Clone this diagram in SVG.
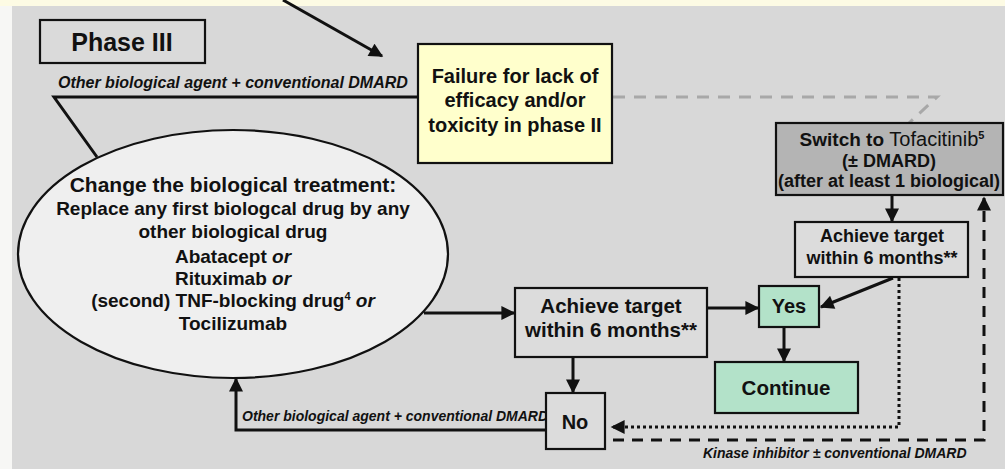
<svg xmlns="http://www.w3.org/2000/svg" width="1005" height="469" viewBox="0 0 1005 469">
<style>
text{font-family:"Liberation Sans",Arial,sans-serif;font-weight:bold;fill:#111;text-anchor:middle}
.box{stroke:#111;stroke-width:2.2}
.lbl{font-style:italic;text-anchor:start}
.ln{fill:none;stroke:#111;stroke-width:3}
.it{font-style:italic}
</style>
<defs>
<marker id="ah" viewBox="0 0 10 10" refX="9" refY="5" markerWidth="15" markerHeight="14" orient="auto" markerUnits="userSpaceOnUse">
<path d="M0,0 L10,5 L0,10 z" fill="#111"/>
</marker>
</defs>
<rect x="0" y="0" width="1005" height="469" fill="#f7f7f5"/>
<rect x="0" y="0" width="1005" height="6" fill="#fdfbe4"/>
<rect x="12" y="6" width="993" height="463" fill="#d8d8d8"/>

<g id="connectors">
<line class="ln" x1="283" y1="0" x2="382" y2="56" marker-end="url(#ah)"/>
<polyline class="ln" stroke-width="2.6" points="418,97 54,97 97,157"/>
<polyline fill="none" stroke="#a8a8a8" stroke-width="3" stroke-dasharray="12 9" points="613,97 937,97 909,123"/>
<line class="ln" stroke-width="3.5" x1="424" y1="313" x2="514" y2="313" marker-end="url(#ah)"/>
<line class="ln" stroke-width="3.5" x1="708" y1="308" x2="758" y2="308" marker-end="url(#ah)"/>
<line class="ln" x1="573" y1="357" x2="573" y2="392" marker-end="url(#ah)"/>
<line class="ln" x1="784" y1="327" x2="784" y2="361" marker-end="url(#ah)"/>
<line class="ln" x1="892" y1="195" x2="892" y2="221" marker-end="url(#ah)"/>
<line class="ln" x1="893" y1="278" x2="821" y2="307" marker-end="url(#ah)"/>
<polyline class="ln" stroke-width="2.8" points="546,430 236,430 236,379" marker-end="url(#ah)"/>
<polyline class="ln" stroke-dasharray="3 3" points="899,278 899,427 612,427" marker-end="url(#ah)"/>
<polyline class="ln" stroke-dasharray="11 8" points="613,440 984,440 984,198" marker-end="url(#ah)"/>
<text class="lbl" x="58" y="88" font-size="16">Other biological agent + conventional DMARD</text>
<text class="lbl" x="242" y="421" font-size="14">Other biological agent + conventional DMARD</text>
<text class="lbl" x="703" y="458" font-size="14">Kinase inhibitor ± conventional DMARD</text>
</g>

<g id="phase3">
<rect class="box" x="40" y="20" width="165" height="43" fill="#dadada"/>
<text x="122" y="51" font-size="25">Phase III</text>
</g>

<g id="failure">
<rect class="box" x="418" y="44" width="194" height="119" fill="#ffffcc"/>
<text x="515" y="83" font-size="20">Failure for lack of</text>
<text x="515" y="107" font-size="20">efficacy and/or</text>
<text x="515" y="132" font-size="20">toxicity in phase II</text>
</g>

<g id="change">
<ellipse class="box" cx="233" cy="254" rx="215" ry="124" fill="#efefef"/>
<text x="233" y="192" font-size="21">Change the biological treatment:</text>
<text x="233" y="215" font-size="19">Replace any first biologcal drug by any</text>
<text x="233" y="238" font-size="19">other biological drug</text>
<text x="233" y="263" font-size="19">Abatacept <tspan class="it">or</tspan></text>
<text x="233" y="285" font-size="19">Rituximab <tspan class="it">or</tspan></text>
<text x="233" y="307" font-size="19">(second) TNF-blocking drug<tspan font-size="11" dy="-7">4</tspan><tspan dy="7"> </tspan><tspan class="it">or</tspan></text>
<text x="233" y="330" font-size="19">Tocilizumab</text>
</g>

<g id="switch">
<rect class="box" x="776" y="123" width="227" height="72" fill="#b4b4b4"/>
<text x="892" y="146" font-size="19">Switch to <tspan font-weight="normal" font-size="20">Tofacitinib</tspan><tspan font-size="11" dy="-7">5</tspan></text>
<text x="889" y="167" font-size="18">(± DMARD)</text>
<text x="889" y="187" font-size="18">(after at least 1 biological)</text>
</g>

<g id="achieve2">
<rect class="box" x="795" y="222" width="173" height="55" fill="#dcdcdc"/>
<text x="882" y="242" font-size="18">Achieve target</text>
<text x="882" y="264" font-size="18">within 6 months**</text>
</g>

<g id="achieve1">
<rect class="box" x="515" y="288" width="192" height="69" fill="#dcdcdc"/>
<text x="611" y="313" font-size="20.5">Achieve target</text>
<text x="611" y="337" font-size="20.5">within 6 months**</text>
</g>

<g id="yes">
<rect class="box" x="759" y="286" width="60" height="41" fill="#b3e2c9"/>
<text x="789" y="313" font-size="20">Yes</text>
</g>

<g id="continue">
<rect class="box" x="715" y="362" width="143" height="51" fill="#b3e2c9"/>
<text x="786" y="395" font-size="20.5">Continue</text>
</g>

<g id="no">
<rect class="box" x="546" y="393" width="59" height="56" fill="#dcdcdc"/>
<text x="575" y="429" font-size="20">No</text>
</g>
</svg>
